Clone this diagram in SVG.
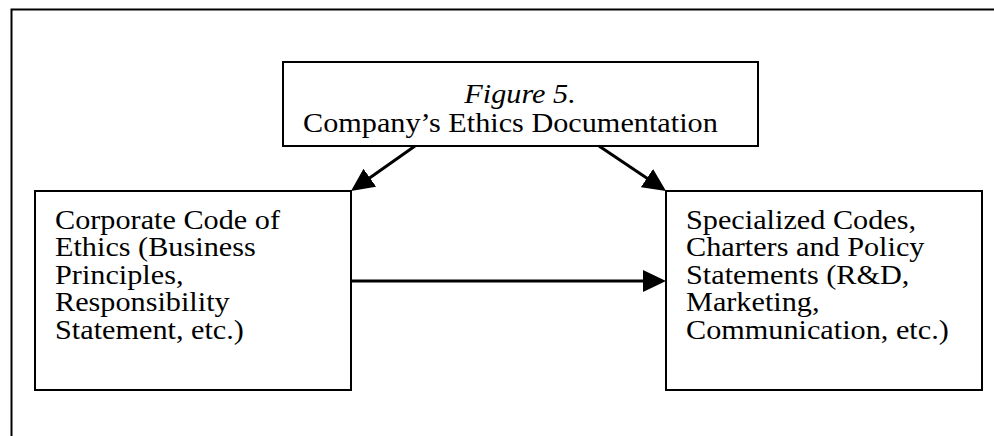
<svg xmlns="http://www.w3.org/2000/svg" width="994" height="436" viewBox="0 0 994 436">
<style>
.box{fill:#fff;stroke:#000;stroke-width:2}
.t{font-family:"Liberation Serif","Times New Roman",serif;font-size:27px;fill:#000}
.i{font-style:italic}
.c{stroke:#000;stroke-width:3;fill:none}
</style>
<defs>
<marker id="ah" markerUnits="userSpaceOnUse" markerWidth="23" markerHeight="22" refX="19" refY="11" orient="auto">
<path d="M0,0 L23,11 L0,22 z" fill="#000"/>
</marker>
</defs>
<rect width="994" height="436" fill="#fff"/>
<path d="M11.5,436 V9.5 H994" fill="none" stroke="#000" stroke-width="2"/>
<g id="top">
<rect class="box" x="283" y="62" width="475" height="84"/>
<g transform="translate(520 0) scale(1.12 1)">
<text class="t i" x="0" y="103" text-anchor="middle">Figure 5.</text>
</g>
<g transform="translate(303 0) scale(1.12 1)">
<text class="t" x="0" y="132">Company’s Ethics Documentation</text>
</g>
</g>
<g id="left">
<rect class="box" x="35" y="191" width="316" height="199"/>
<g transform="translate(55 0) scale(1.12 1)">
<text class="t" x="0" y="229">Corporate Code of</text>
<text class="t" x="0" y="256.5">Ethics (Business</text>
<text class="t" x="0" y="284">Principles,</text>
<text class="t" x="0" y="311.5">Responsibility</text>
<text class="t" x="0" y="339">Statement, etc.)</text>
</g>
</g>
<g id="right">
<rect class="box" x="666" y="191" width="316" height="199"/>
<g transform="translate(686 0) scale(1.12 1)">
<text class="t" x="0" y="229">Specialized Codes,</text>
<text class="t" x="0" y="256.5">Charters and Policy</text>
<text class="t" x="0" y="284">Statements (R&amp;D,</text>
<text class="t" x="0" y="311.5">Marketing,</text>
<text class="t" x="0" y="339">Communication, etc.)</text>
</g>
</g>
<g id="connectors">
<line class="c" x1="415" y1="146" x2="354.3" y2="188.7" marker-end="url(#ah)"/>
<line class="c" x1="599" y1="146" x2="662.7" y2="188.8" marker-end="url(#ah)"/>
<line class="c" x1="351" y1="281" x2="662" y2="281" marker-end="url(#ah)"/>
</g>
</svg>
